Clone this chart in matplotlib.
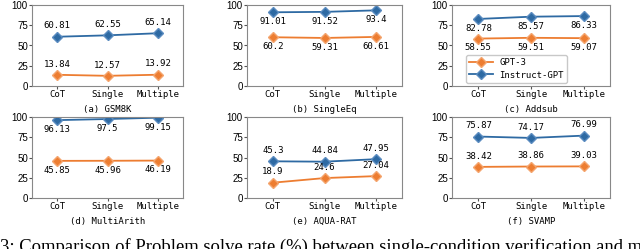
import matplotlib
matplotlib.use("Agg")
import matplotlib.pyplot as plt

categories = ["CoT", "Single", "Multiple"]
datasets = ["(a) GSM8K", "(b) SingleEq", "(c) Addsub", "(d) MultiArith", "(e) AQUA-RAT", "(f) SVAMP"]
gpt3 = [
    [13.84, 12.57, 13.92],
    [60.2, 59.31, 60.61],
    [58.55, 59.51, 59.07],
    [45.85, 45.96, 46.19],
    [18.9, 24.6, 27.04],
    [38.42, 38.86, 39.03],
]
instruct = [
    [60.81, 62.55, 65.14],
    [91.01, 91.52, 93.4],
    [82.78, 85.57, 86.33],
    [96.13, 97.5, 99.15],
    [45.3, 44.84, 47.95],
    [75.87, 74.17, 76.99],
]
label_above = [True, False, False, False, True, True]
yticks = [0, 25, 50, 75, 100]

ORANGE = "#ed7d31"
BLUE = "#2e6aa3"
MONO = "DejaVu Sans Mono"
FS = 6.5

fig = plt.figure(figsize=(6.4, 2.49), dpi=100)
W, H = 640, 249
lefts = [32, 247, 452]
widths = [151, 155, 158]
tops = [5, 117]
ah = 81

for i in range(6):
    r, c = divmod(i, 3)
    l = lefts[c]
    w = widths[c]
    t = tops[r]
    ax = fig.add_axes([l / W, 1 - (t + ah) / H, w / W, ah / H])
    x = list(range(len(categories)))
    ax.plot(x, gpt3[i], color=ORANGE, marker="D", markersize=5, lw=1.3,
            markerfacecolor=ORANGE, markeredgecolor="#f4a56e", label="GPT-3")
    ax.plot(x, instruct[i], color=BLUE, marker="D", markersize=5, lw=1.3,
            markerfacecolor=BLUE, markeredgecolor="#5b8cc0", label="Instruct-GPT")
    off = 4.5 if label_above[i] else -3.5
    va = "bottom" if label_above[i] else "top"
    for series in (gpt3[i], instruct[i]):
        for xi, v in zip(x, series):
            ax.annotate(f"{v:g}", (xi, v), xytext=(0, off), textcoords="offset points",
                        ha="center", va=va, fontsize=FS, family=MONO)
    ax.set_xlim(-0.5, 2.5)
    ax.set_ylim(0, 100)
    ax.set_yticks(yticks)
    ax.set_xticks(x)
    ax.set_xticklabels(categories, family=MONO, fontsize=FS)
    for lab in ax.get_yticklabels():
        lab.set_family("Liberation Sans")
        lab.set_fontsize(7)
    ax.tick_params(length=2, pad=1, color="#555555")
    for s in ax.spines.values():
        s.set_color("#888888")
        s.set_linewidth(0.8)
    ax.set_xlabel(datasets[i], family=MONO, fontsize=FS, labelpad=4)
    if i == 2:
        ax.legend(loc="lower left", bbox_to_anchor=(0.09, 0.04), borderaxespad=0,
                  prop={"family": MONO, "size": FS}, frameon=True,
                  edgecolor="#bbbbbb", handlelength=2.6, borderpad=0.35,
                  labelspacing=0.35, handletextpad=0.7)

fig.text(0.0, 1 - 238 / H,
         "3: Comparison of Problem solve rate (%) between single-condition verification and multi-condition verification.",
         family="Liberation Serif", fontsize=13.4, ha="left", va="top")

fig.savefig("out.png", dpi=100)
